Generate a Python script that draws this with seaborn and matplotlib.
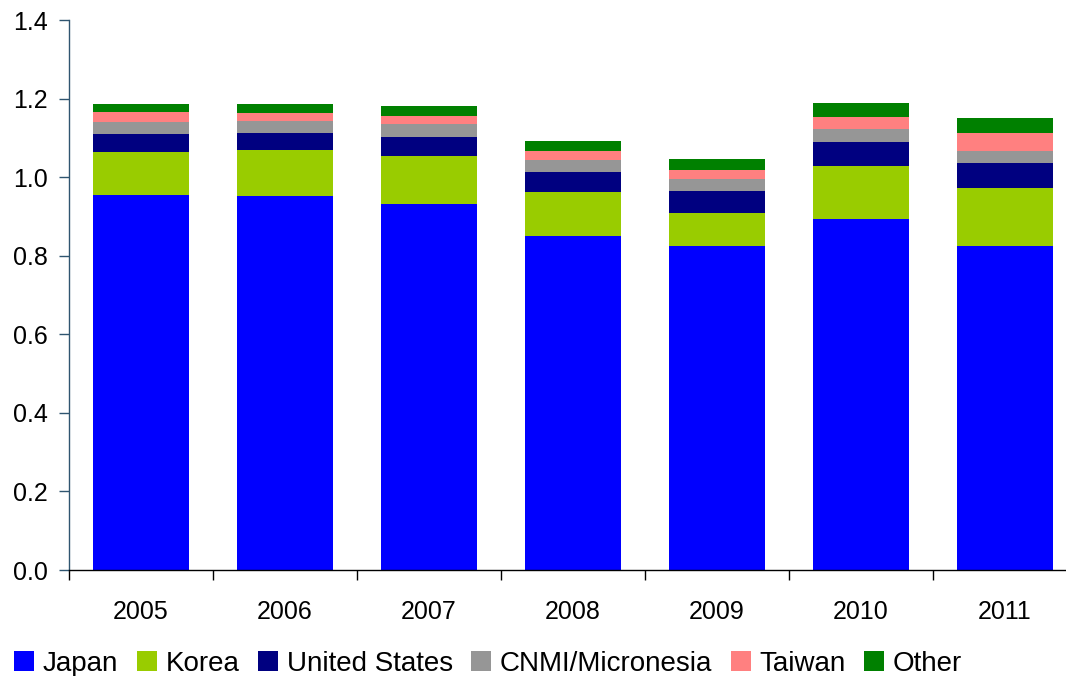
import numpy as np
import pandas as pd
import matplotlib
matplotlib.use("Agg")
import matplotlib.pyplot as plt
from matplotlib.patches import Patch
import seaborn as sns

years = ["2005", "2006", "2007", "2008", "2009", "2010", "2011"]
japan = [0.954, 0.952, 0.932, 0.850, 0.825, 0.893, 0.825]
korea = [0.110, 0.117, 0.122, 0.112, 0.084, 0.135, 0.147]
united_states = [0.046, 0.043, 0.048, 0.051, 0.056, 0.061, 0.064]
cnmi_micronesia = [0.030, 0.031, 0.033, 0.031, 0.030, 0.033, 0.030]
taiwan = [0.026, 0.020, 0.021, 0.022, 0.023, 0.031, 0.046]
other = [0.020, 0.023, 0.025, 0.026, 0.028, 0.036, 0.038]

series_names = ["Japan", "Korea", "United States", "CNMI/Micronesia", "Taiwan", "Other"]
series_values = [japan, korea, united_states, cnmi_micronesia, taiwan, other]
colors = ["#0000FF", "#99CC00", "#000080", "#969696", "#FF8080", "#008000"]

sns.set_style("white")
plt.rcParams["font.family"] = ["Liberation Sans", "DejaVu Sans"]
plt.rcParams["text.color"] = "black"
plt.rcParams["xtick.color"] = "black"
plt.rcParams["ytick.color"] = "black"

fig = plt.figure(figsize=(10.66, 6.76), dpi=100)
W, H = 1066, 676
# plot area spans x 69..1077 px, y 20..570 px (measured from the top)
ax = fig.add_axes([69 / W, (H - 570) / H, (1077 - 69) / W, (570 - 20) / H])

bottom = np.zeros(len(years))
for name, vals, col in zip(series_names, series_values, colors):
    df = pd.DataFrame({"year": years, "value": vals})
    sns.barplot(data=df, x="year", y="value", order=years, color=col,
                bottom=bottom, width=0.667, ax=ax, saturation=1,
                edgecolor="none", linewidth=0)
    bottom = bottom + np.array(vals)

ax.set_ylim(0, 1.4)
ax.set_xlim(-0.5, len(years) - 0.5)
yt = np.arange(0, 1.41, 0.2)
ax.set_yticks(yt)
ax.set_yticklabels([f"{v:.1f}" for v in yt])
ax.set_xlabel("")
ax.set_ylabel("")

# tick marks sit on category boundaries; year labels sit under bar centres
bounds = np.arange(-0.5, len(years), 1.0)
ax.set_xticks(bounds)
ax.set_xticklabels([""] * len(bounds))
ax.set_xticks(np.arange(len(years)), minor=True)
ax.set_xticklabels(years, minor=True)
ax.tick_params(axis="x", which="major", bottom=True, direction="out",
               length=7, width=1, color="black")
ax.tick_params(axis="x", which="minor", bottom=True, length=0, pad=21.5,
               labelsize=18, labelcolor="black")
ax.tick_params(axis="y", left=True, direction="out", length=7, width=1,
               color="#2f5570", labelsize=18, labelcolor="black", pad=8)

for side in ["top", "right"]:
    ax.spines[side].set_visible(False)
ax.spines["left"].set_color("#2f5570")
ax.spines["left"].set_linewidth(1)
ax.spines["bottom"].set_color("black")
ax.spines["bottom"].set_linewidth(1)
ax.grid(False)

handles = [Patch(facecolor=c, edgecolor="none") for c in colors]
fig.legend(handles, series_names, loc="center left",
           bbox_to_anchor=(14 / W, 1 - 664 / H), ncol=6, frameon=False,
           fontsize=20, handlelength=0.72, handleheight=0.72,
           handletextpad=0.32, columnspacing=0.66, borderaxespad=0,
           borderpad=0, labelcolor="black")

fig.savefig("out.png", dpi=100)
